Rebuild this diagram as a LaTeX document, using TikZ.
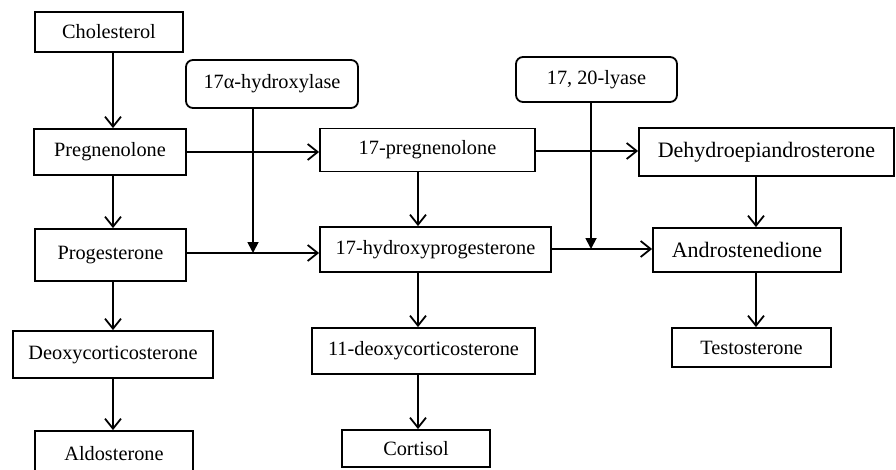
\documentclass[tikz,border=0pt]{standalone}
\usepackage{fontspec}
\setmainfont{Liberation Serif}
\usetikzlibrary{arrows.meta}
\tikzset{
  box/.style={draw, line width=1.8pt, inner sep=0pt, align=center, font=\fontsize{20.3}{23}\selectfont},
  bigbox/.style={box, font=\fontsize{22}{25}\selectfont},
  enz/.style={box, rounded corners=7pt},
  arr/.style={line width=1.8pt, -{Straight Barb[length=10pt,width=16pt]}},
  farr/.style={line width=1.8pt, -{Triangle[length=11pt,width=11pt]}}
}
\begin{document}
\begin{tikzpicture}[x=1pt,y=-1pt]
\useasboundingbox (0,0) rectangle (896,469);
\clip (0,0) rectangle (896,469);
\node[box, minimum width=148pt, minimum height=40pt] (chol) at (109,32) {Cholesterol};
\node[enz, minimum width=172pt, minimum height=48pt] (hydrox) at (272,84) {17α-hydroxylase};
\node[box, minimum width=152pt, minimum height=46pt] (preg) at (110,152) {Pregnenolone};
\node[box, minimum width=215pt, minimum height=43pt] (p17) at (427.5,150) {17-pregnenolone};
\node[enz, minimum width=161pt, minimum height=45pt] (lyase) at (596.5,79.5) {17, 20-lyase};
\node[bigbox, minimum width=255pt, minimum height=48pt] (dhea) at (766.5,152) {Dehydroepiandrosterone};
\node[box, minimum width=151pt, minimum height=52pt] (prog) at (110.5,255) {Progesterone};
\node[box, minimum width=231pt, minimum height=45pt] (hp17) at (435.5,249.5) {17-hydroxyprogesterone};
\node[bigbox, minimum width=188pt, minimum height=44pt] (andro) at (747,250) {Androstenedione};
\node[box, minimum width=200pt, minimum height=47pt] (deoxy) at (113,354.5) {Deoxycorticosterone};
\node[box, minimum width=223pt, minimum height=46pt] (d11) at (423.5,351) {11-deoxycorticosterone};
\node[box, minimum width=159pt, minimum height=39pt] (testo) at (751.5,347.5) {Testosterone};
\node[box, minimum width=158pt, minimum height=46pt] (aldo) at (114,454) {Aldosterone};
\node[box, minimum width=148pt, minimum height=37pt] (cort) at (416,448.5) {Cortisol};
% column coordinates
\coordinate (c1) at (113,0);
\coordinate (c2) at (418,0);
\coordinate (c3) at (756,0);
\coordinate (e1) at (253,0);
\coordinate (e2) at (591,0);
\coordinate (j1) at (253,253);
\coordinate (j2) at (591,249);
\coordinate (h1) at (0,152);
\coordinate (h2) at (0,151);
% vertical arrows
\draw[arr] (chol.south -| c1) -- (preg.north -| c1);
\draw[arr] (preg.south -| c1) -- (prog.north -| c1);
\draw[arr] (prog.south -| c1) -- (deoxy.north -| c1);
\draw[arr] (deoxy.south -| c1) -- (aldo.north -| c1);
\draw[arr] (p17.south -| c2) -- (hp17.north -| c2);
\draw[arr] (hp17.south -| c2) -- (d11.north -| c2);
\draw[arr] (d11.south -| c2) -- (cort.north -| c2);
\draw[arr] (dhea.south -| c3) -- (andro.north -| c3);
\draw[arr] (andro.south -| c3) -- (testo.north -| c3);
% horizontal arrows
\draw[arr] (preg.east |- h1) -- (p17.west |- h1);
\draw[arr] (p17.east |- h2) -- (dhea.west |- h2);
\draw[arr] (prog.east |- j1) -- (hp17.west |- j1);
\draw[arr] (hp17.east |- j2) -- (andro.west |- j2);
% enzyme arrows
\draw[farr] (hydrox.south -| e1) -- (j1);
\draw[farr] (lyase.south -| e2) -- (j2);
\end{tikzpicture}
\end{document}
